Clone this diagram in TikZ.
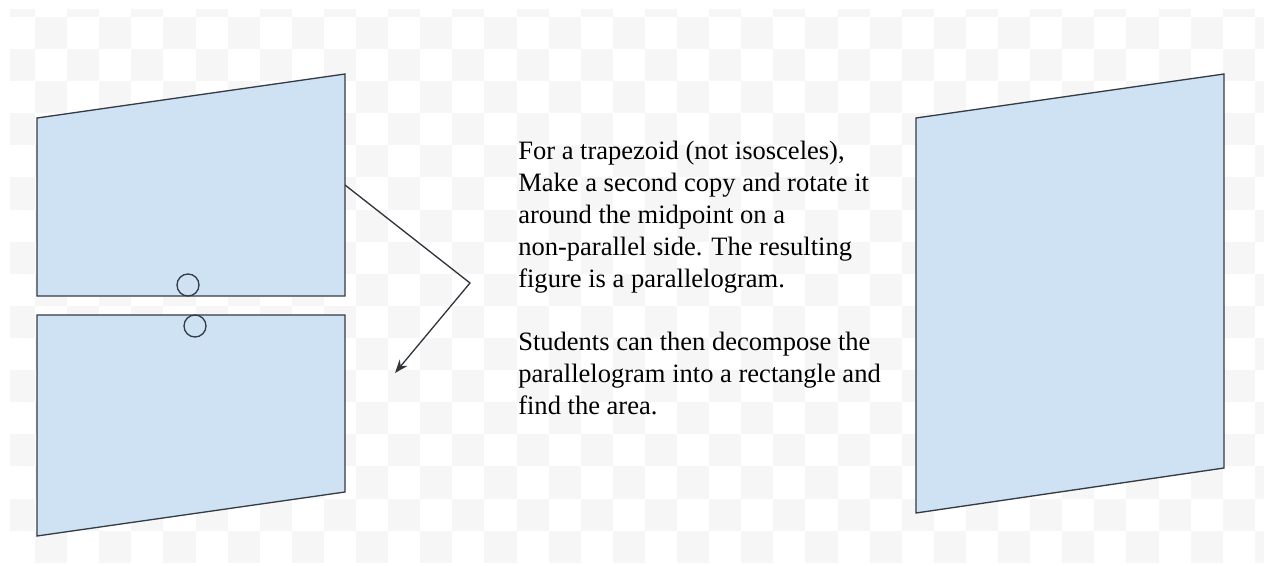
\documentclass[tikz,border=0pt]{standalone}
\usepackage{fontspec}
\setmainfont{Liberation Serif}
\usetikzlibrary{arrows.meta,calc}
\definecolor{TrapFill}{HTML}{CFE2F3}
\definecolor{TrapLine}{HTML}{353B44}
\definecolor{CheckGray}{HTML}{F6F6F6}
\begin{document}
\begin{tikzpicture}[x=0.75pt,y=-0.75pt,
    >={Stealth[length=10pt,width=7.5pt]},
    trap/.style={draw=TrapLine,fill=TrapFill,line width=1pt,line join=miter},
    pivot/.style={draw=TrapLine,line width=1pt},
    turn/.style={->,draw=TrapLine!90!black,line width=1pt},
    note/.style={anchor=north west,inner sep=0pt,align=left,
      font=\fontsize{19.9}{24}\selectfont}
  ]
  \fill[white] (0,0) rectangle (1264,566);
  \useasboundingbox (0,0) rectangle (1264,566);

  % checkerboard backdrop
  \begin{scope}
    \clip (10,10) rectangle (1264,562);
    \foreach \i in {-1,1,...,37}
      \foreach \j in {-1,1,...,17} {
        \fill[CheckGray] ({35+32.1*\i},{17+32.1*\j}) rectangle +(32.1,32.1);
        \fill[CheckGray] ({35+32.1*(\i+1)},{17+32.1*(\j+1)}) rectangle +(32.1,32.1);
      }
  \end{scope}

  % upper trapezoid
  \coordinate (uTL) at (37,118);
  \coordinate (uTR) at (345,74);
  \coordinate (uBR) at (345,296);
  \coordinate (uBL) at (37,296);
  \draw[trap] (uTL) -- (uTR) -- (uBR) -- (uBL) -- cycle;

  % lower copy, turned
  \coordinate (lTL) at (37,315);
  \coordinate (lTR) at (345,315);
  \coordinate (lBR) at (345,492);
  \coordinate (lBL) at (37,536);
  \draw[trap] (lTL) -- (lTR) -- (lBR) -- (lBL) -- cycle;

  \draw[pivot] (188,285) circle[radius=11];
  \draw[pivot] (195,326) circle[radius=11];

  % arrow from the side midpoint
  \coordinate (mid) at ($(uTR)!0.5!(uBR)$);
  \coordinate (bend) at (470,283);
  \coordinate (tip) at (395,373);
  \draw[turn] (mid) -- (bend) -- (tip);

  \node[note] (text) at (518,141)
    {For a trapezoid (not isosceles),\\
     Make a second copy and rotate it\\
     around the midpoint on a\\
     non-parallel side. The resulting\\
     figure is a parallelogram.\\[23pt]
     Students can then decompose the\\
     parallelogram into a rectangle and\\
     find the area.};

  % resulting parallelogram
  \coordinate (pTL) at (916,118);
  \coordinate (pTR) at (1224,74);
  \coordinate (pBR) at (1224,468);
  \coordinate (pBL) at (916,513);
  \draw[trap] (pTL) -- (pTR) -- (pBR) -- (pBL) -- cycle;
\end{tikzpicture}
\end{document}
